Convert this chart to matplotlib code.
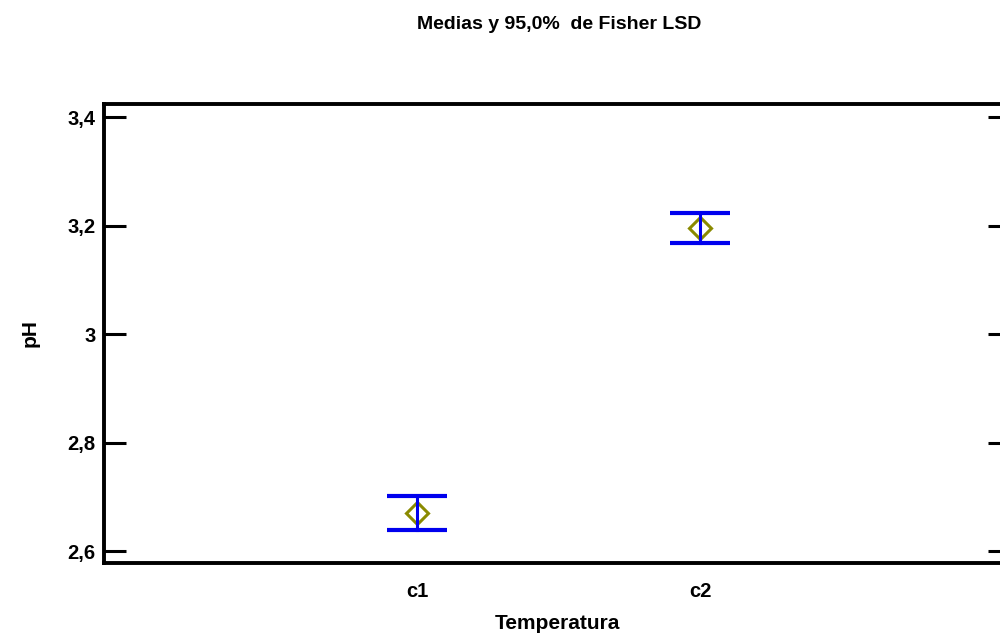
import matplotlib.pyplot as plt

plt.rcParams['font.family'] = ['Liberation Sans', 'DejaVu Sans']
plt.rcParams['font.weight'] = 'bold'

# Medias y intervalos LSD de Fisher (95%)
groups = ['c1', 'c2']
means = [2.670, 3.196]
lower = [2.639, 3.168]
upper = [2.702, 3.224]

yticks = [2.6, 2.8, 3.0, 3.2, 3.4]
ytick_labels = ['2,6', '2,8', '3', '3,2', '3,4']

fig = plt.figure(figsize=(10, 6.33), dpi=100)
ax = fig.add_axes([0.104, 70 / 633, 0.906, 459 / 633])

xpos = [1, 2]
ax.plot(xpos, means, linestyle='none', marker='D', markersize=11, markerfacecolor='none',
        markeredgecolor='#8a8a00', markeredgewidth=2.2, zorder=2)
for x, m, lo, hi in zip(xpos, means, lower, upper):
    ax.plot([x, x], [lo, hi], color='#0000ee', lw=2.2, zorder=3)
    ax.plot([x - 0.107, x + 0.107], [lo, lo], color='#0000ee', lw=3, solid_capstyle='butt', zorder=3)
    ax.plot([x - 0.107, x + 0.107], [hi, hi], color='#0000ee', lw=3, solid_capstyle='butt', zorder=3)

ax.set_xlim(-0.106, 3.095)
ax.set_ylim(2.578, 3.424)
ax.set_xticks(xpos)
ax.set_xticklabels(groups)
ax.set_yticks(yticks)
ax.set_yticklabels(ytick_labels)
ax.tick_params(axis='x', length=0, pad=14, labelsize=14.5)
ax.tick_params(axis='y', direction='in', length=16, width=2.2, pad=6, labelsize=14.5, right=True)

for s in ax.spines.values():
    s.set_linewidth(2.8)

ax.set_xlabel('Temperatura', fontsize=15, fontweight='bold', labelpad=9)
ax.set_ylabel('pH', fontsize=15, fontweight='bold', labelpad=20)
fig.text(0.559, 0.961, 'Medias y 95,0%  de Fisher LSD', ha='center', va='center',
         fontsize=14, fontweight='bold')

fig.savefig('out.png', dpi=100)
